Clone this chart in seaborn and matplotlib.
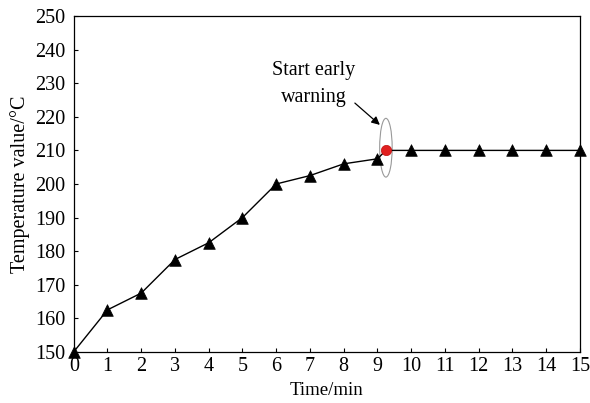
import matplotlib
matplotlib.use("Agg")
import matplotlib.pyplot as plt
from matplotlib.patches import Ellipse
import seaborn as sns
import pandas as pd

sns.set_style("ticks", {"axes.edgecolor": "black", "text.color": "black",
                        "axes.labelcolor": "black", "xtick.color": "black",
                        "ytick.color": "black"})
plt.rcParams["font.family"] = ["Liberation Serif", "DejaVu Serif"]
plt.rcParams["mathtext.fontset"] = "stix"

# Measured temperature each minute
minutes = [0, 1, 2, 3, 4, 5, 6, 7, 8, 9, 10, 11, 12, 13, 14, 15]
temps = [150, 162.5, 167.5, 177.5, 182.5, 190, 200, 202.5, 206, 207.5,
         210, 210, 210, 210, 210, 210]

# Moment the early warning is raised
warn_time = 9.25
warn_temp = 210

x_ticks = list(range(0, 16))
y_ticks = list(range(150, 251, 10))

measured = pd.DataFrame({"time": minutes, "temp": temps})
trace = pd.concat(
    [measured, pd.DataFrame({"time": [warn_time], "temp": [warn_temp]})]
).sort_values("time")

fig, ax = plt.subplots(figsize=(5.9, 4.03), dpi=100)
fig.subplots_adjust(left=0.125, right=0.983, top=0.96, bottom=0.127)

sns.lineplot(data=trace, x="time", y="temp", ax=ax, color="black",
             linewidth=1.0, sort=False, zorder=2)
sns.scatterplot(data=measured, x="time", y="temp", ax=ax, marker="^",
                color="black", s=70, edgecolor="black", linewidth=0.5,
                zorder=3, clip_on=False)
sns.scatterplot(x=[warn_time], y=[warn_temp], ax=ax, marker="o",
                color="#e02020", s=55, edgecolor="#c01010", linewidth=0.5,
                zorder=4)

ax.add_patch(Ellipse((warn_time, warn_temp + 0.8), width=0.37, height=17.5,
                     fill=False, edgecolor="#999999", linewidth=0.8,
                     zorder=1))
ax.text(7.1, 223.0, "Start early\nwarning", ha="center", va="bottom",
        fontsize=14.5, linespacing=1.55, color="black")
ax.annotate("", xy=(9.07, 217.6), xytext=(8.33, 224.1),
            arrowprops=dict(arrowstyle="-|>", color="black", lw=0.9,
                            mutation_scale=12, shrinkA=0, shrinkB=0))

ax.set_xlim(0, 15)
ax.set_ylim(150, 250)
ax.set_xticks(x_ticks)
ax.set_yticks(y_ticks)
ax.tick_params(direction="in", length=3, width=0.8, labelsize=14.5,
               colors="black")
ax.tick_params(axis="x", pad=4)
ax.tick_params(axis="y", pad=6)
ax.set_xlabel("Time/min", fontsize=13.5, labelpad=4, color="black")
ax.set_ylabel("Temperature value/\u00b0C", fontsize=14.5, labelpad=4,
              color="black")
for side in ax.spines.values():
    side.set_linewidth(0.9)
    side.set_color("black")

fig.savefig("out.png", dpi=100)
